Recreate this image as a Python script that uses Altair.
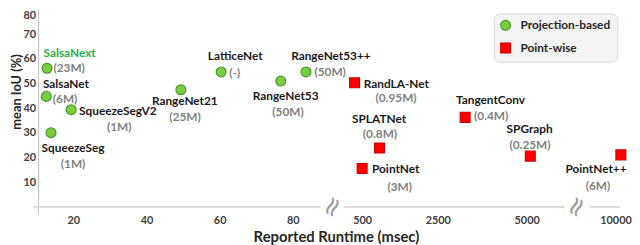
import altair as alt
import pandas as pd

# ---------------- data ----------------
names = ["SalsaNext", "SalsaNet", "SqueezeSegV2", "SqueezeSeg", "RangeNet21",
         "LatticeNet", "RangeNet53", "RangeNet53++",
         "RandLA-Net", "SPLATNet", "PointNet", "TangentConv", "SPGraph", "PointNet++"]
groups = ["Projection-based"] * 8 + ["Point-wise"] * 6
runtime = [12.8, 12.6, 19.4, 13.9, 49.4, 60.4, 76.7, 83.6,
           300, 960, 500, 3270, 5205, 10300]
miou = [56.2, 44.8, 39.4, 30.1, 47.5, 54.7, 51.0, 54.7,
        50.3, 23.9, 15.6, 36.3, 20.6, 21.1]
params = ["(23M)", "(6M)", "(1M)", "(1M)", "(25M)", "(-)", "(50M)", "(50M)",
          "(0.95M)", "(0.8M)", "(3M)", "(0.4M)", "(0.25M)", "(6M)"]

group_order = ["Projection-based", "Point-wise"]
x_ticks = [20, 40, 60, 80, 500, 2500, 5000, 10000]
y_ticks = [10, 20, 30, 40, 50, 60, 70, 80]

# broken x axis: piecewise scale (runtime values -> pixel range)
x_domain = [10.5, 90, 250, 500, 2500, 5000, 10000, 11000]
x_range = [0, 294.5, 318.1, 327.7, 404.3, 494.3, 584.3, 602.3]
# axis line pieces (in runtime units) and break marks
axis_seg_start = [8.9, 190, 8522]
axis_seg_end = [87.7, 7133, 10261]
axis_breaks = [113, 7820]

# ---------------- label layout (pixel offsets from each point) ----------------
name_dx = [-3.5, -3.4, 8, 22.3, 4, 14.3, 5, 25.3, 9.3, -0.5, 10, 25.7, -0.7, -25.2]
name_dy = [-15, -12, 1.7, 15.6, 11.3, -15.7, 15, -16.4, 1, -29, 0.7, -18, -27.7, 14.7]
name_al = ["left", "left", "left", "center", "center", "center", "center", "center",
           "left", "center", "left", "center", "center", "center"]
par_dx = [6.5, 6.6, 48.7, 22.3, 4.2, 8.3, 7.4, 8.6, 42, 0.4, 38, 9, -0.3, -23.2]
par_dy = [-0.5, 2.5, 17.7, 31.3, 28, 1, 31, 0, 15.6, -14.3, 18.4, -1, -11.4, 31.4]
par_al = ["left", "left", "center", "center", "center", "left", "center", "left",
          "center", "center", "center", "left", "center", "center"]

FONT = "Lato"
df = pd.DataFrame({"name": names, "group": groups, "runtime": runtime,
                   "miou": miou, "params": params})

xscale = alt.Scale(domain=x_domain, range=x_range, nice=False, zero=False)
yscale = alt.Scale(domain=[0, 80], nice=False, zero=True)
xaxis = alt.Axis(values=x_ticks, format="d", title="Reported Runtime (msec)", grid=False,
                 domain=False, ticks=False, tickSize=0, labelPadding=8,
                 labelFlush=False, labelFont=FONT, labelFontSize=11,
                 labelFontWeight="bold", labelColor="#404040",
                 titleFont=FONT, titleFontSize=15, titleFontWeight="bold",
                 titleColor="#262626", titlePadding=4)
yaxis = alt.Axis(values=y_ticks, format="d", title="mean IoU (%)", grid=False,
                 domain=False, ticks=False, tickSize=0, labelPadding=3,
                 labelFlush=True, labelFont=FONT, labelFontSize=11,
                 labelFontWeight="bold", labelColor="#404040",
                 titleFont=FONT, titleFontSize=13, titleFontWeight="bold",
                 titleColor="#262626", titleX=-18, titleY=83,
                 titleBaseline="alphabetic")

X = alt.X("runtime:Q", scale=xscale, axis=xaxis)
Y = alt.Y("miou:Q", scale=yscale, axis=yaxis)

# axis lines
xline_df = pd.DataFrame({"runtime": axis_seg_start, "runtime_end": axis_seg_end,
                         "miou": [0] * len(axis_seg_start)})
xline = alt.Chart(xline_df).mark_rule(color="#bfbfbf", strokeWidth=1).encode(
    x=X, x2=alt.X2("runtime_end:Q"), y=Y)
yline_df = pd.DataFrame({"runtime": [x_domain[0]], "miou": [-2.8], "miou_end": [80]})
yline = alt.Chart(yline_df).mark_rule(color="#bfbfbf", strokeWidth=1).encode(
    x=X, y=Y, y2=alt.Y2("miou_end:Q"))
brk_df = pd.DataFrame({"runtime": axis_breaks, "miou": [0] * len(axis_breaks),
                       "t": ["\u2248"] * len(axis_breaks)})
brk = alt.Chart(brk_df).mark_text(font="DejaVu Sans", fontSize=27, angle=295,
                                  color="#9a9a9a", baseline="middle",
                                  align="center").encode(x=X, y=Y, text="t:N")

points = alt.Chart(df).mark_point(filled=True, size=100, strokeWidth=1.2,
                                  opacity=1).encode(
    x=X, y=Y,
    shape=alt.Shape("group:N", title=None,
                    scale=alt.Scale(domain=group_order, range=["circle", "square"])),
    fill=alt.Fill("group:N", title=None,
                  scale=alt.Scale(domain=group_order, range=["#7ccc3e", "#ff0000"])),
    stroke=alt.Stroke("group:N", title=None,
                      scale=alt.Scale(domain=group_order, range=["#3f9c2c", "#d40000"])),
)

layers = [xline, yline, brk, points]
for i, n in enumerate(names):
    sub = alt.Chart(df).transform_filter(alt.FieldEqualPredicate(field="name", equal=n))
    ncol = "#22b14c" if n == "SalsaNext" else "#1a1a1a"
    layers.append(sub.mark_text(font=FONT, fontSize=12, fontWeight="bold", color=ncol,
                                align=name_al[i], baseline="middle",
                                dx=name_dx[i], dy=name_dy[i]).encode(x=X, y=Y, text="name:N"))
    layers.append(sub.mark_text(font=FONT, fontSize=12, fontWeight="bold", color="#7f7f7f",
                                align=par_al[i], baseline="middle",
                                dx=par_dx[i], dy=par_dy[i]).encode(x=X, y=Y, text="params:N"))

chart = alt.layer(*layers).properties(
    width=593, height=200,
    autosize=alt.AutoSizeParams(type="none"),
    padding={"left": 31, "top": 0, "right": 8, "bottom": 37},
).configure_view(stroke=None).configure_legend(
    orient="none", legendX=461, legendY=4, padding=6,
    fillColor="#f3f3f3", strokeColor="#d6d6d6", cornerRadius=6,
    labelFont=FONT, labelFontSize=12, labelFontWeight="bold", labelColor="#262626",
    labelOffset=9, rowPadding=7, symbolSize=100, symbolStrokeWidth=1.2,
)

chart.save("out.html", embed_options={"renderer": "svg", "actions": False})
